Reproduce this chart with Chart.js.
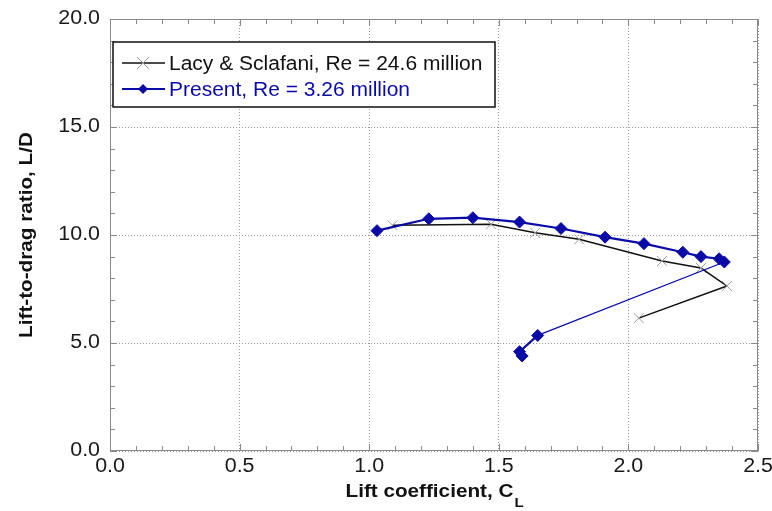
<!DOCTYPE html>
<html>
<head>
<meta charset="utf-8">
<script src="https://cdn.jsdelivr.net/npm/chart.js@4/dist/chart.umd.min.js"></script>
<style>
  html, body { margin: 0; padding: 0; background: #fff; }
  #wrap { width: 772px; height: 511px; }
</style>
</head>
<body>
<div id="wrap"><canvas id="chartLiftDrag"></canvas></div>
<script>
const lacyLabel = `Lacy & Sclafani, Re = 24.6 million`;
const lacyCL = [1.09, 1.47, 1.64, 1.81, 2.13, 2.28, 2.38, 2.04];
const lacyLD = [10.45, 10.5, 10.1, 9.8, 8.8, 8.47, 7.64, 6.15];

const presentLabel = `Present, Re = 3.26 million`;
const presentCL = [1.03, 1.23, 1.40, 1.58, 1.74, 1.91, 2.06, 2.21, 2.28, 2.35, 2.37, 1.65, 1.58, 1.59];
const presentLD = [10.2, 10.75, 10.8, 10.6, 10.3, 9.9, 9.6, 9.2, 9.0, 8.9, 8.75, 5.35, 4.6, 4.4];

const xTicks = [0, 0.5, 1.0, 1.5, 2.0, 2.5];
const yTicks = [0, 5, 10, 15, 20];
const xTitle = `Lift coefficient, C`;
const xTitleSub = `L`;
const yTitle = `Lift-to-drag ratio, L/D`;

const blue = `#0a0aa6`;
const fontFamily = `"Liberation Sans", Arial, Helvetica, sans-serif`;

function toPoints(xs, ys) {
  return xs.map((x, i) => ({ x, y: ys[i] }));
}

// the original lettering is a bit wider than Arial, so stretch it
function wideText(ctx, text, x, y, sx, align) {
  ctx.save();
  ctx.translate(x, y);
  ctx.scale(sx, 1);
  ctx.textAlign = align;
  ctx.fillText(text, 0, 0);
  ctx.restore();
}

// box, inward ticks, tick labels, legend and axis titles
const frame = {
  id: `frame`,
  afterDatasetsDraw(chart) {
    const { ctx, chartArea: a, scales } = chart;
    const xs = scales.x, ys = scales.y;
    ctx.save();
    ctx.strokeStyle = `#8a8a8a`;
    ctx.lineWidth = 1;
    ctx.strokeRect(a.left + 0.5, a.top + 0.5, a.right - a.left - 1, a.bottom - a.top - 1);
    ctx.beginPath();
    for (let i = 0; i <= 25; i++) {
      const px = Math.round(xs.getPixelForValue(i / 10)) + 0.5;
      const len = i % 5 === 0 ? 7 : 5;
      ctx.moveTo(px, a.bottom); ctx.lineTo(px, a.bottom - len);
      ctx.moveTo(px, a.top); ctx.lineTo(px, a.top + len);
    }
    for (let j = 0; j <= 20; j++) {
      const py = Math.round(ys.getPixelForValue(j)) + 0.5;
      const len = j % 5 === 0 ? 7 : 5;
      ctx.moveTo(a.left, py); ctx.lineTo(a.left + len, py);
      ctx.moveTo(a.right, py); ctx.lineTo(a.right - len, py);
    }
    ctx.stroke();

    // tick labels
    ctx.fillStyle = `#1a1a1a`;
    ctx.font = `20px ${fontFamily}`;
    ctx.textBaseline = `middle`;
    xTicks.forEach((v) => wideText(ctx, v.toFixed(1), xs.getPixelForValue(v), a.bottom + 15, 1.07, `center`));
    yTicks.forEach((v) => wideText(ctx, v.toFixed(1), a.left - 10, ys.getPixelForValue(v) - 1, 1.07, `right`));

    // legend
    const lx = 113, ly = 42, lw = 382, lh = 65;
    ctx.fillStyle = `#fff`;
    ctx.fillRect(lx, ly, lw, lh);
    ctx.strokeStyle = `#111`;
    ctx.lineWidth = 1.5;
    ctx.strokeRect(lx, ly, lw, lh);
    ctx.font = `20px ${fontFamily}`;
    ctx.textBaseline = `middle`;
    chart.data.datasets.forEach((ds, k) => {
      const cy = ly + 21 + k * 26;
      ctx.strokeStyle = ds.borderColor;
      ctx.lineWidth = k === 0 ? 1.5 : 2;
      ctx.beginPath(); ctx.moveTo(122, cy); ctx.lineTo(165, cy); ctx.stroke();
      if (k === 0) {
        ctx.strokeStyle = `#999`; ctx.lineWidth = 1;
        ctx.beginPath();
        ctx.moveTo(137, cy - 6); ctx.lineTo(149, cy + 6);
        ctx.moveTo(137, cy + 6); ctx.lineTo(149, cy - 6);
        ctx.stroke();
      } else {
        ctx.fillStyle = blue;
        ctx.beginPath();
        ctx.moveTo(143, cy - 5); ctx.lineTo(148, cy); ctx.lineTo(143, cy + 5); ctx.lineTo(138, cy);
        ctx.closePath(); ctx.fill();
      }
      ctx.fillStyle = k === 0 ? `#111` : blue;
      wideText(ctx, ds.label, 169, cy + 1, 1.05, `left`);
    });

    // axis titles
    ctx.fillStyle = `#111`;
    ctx.textBaseline = `alphabetic`;
    const sx = 1.15;
    ctx.font = `bold 18px ${fontFamily}`;
    const w1 = ctx.measureText(xTitle).width * sx;
    ctx.font = `bold 13px ${fontFamily}`;
    const w2 = ctx.measureText(xTitleSub).width * sx;
    const tx = (a.left + a.right) / 2 - (w1 + w2) / 2;
    ctx.font = `bold 18px ${fontFamily}`;
    wideText(ctx, xTitle, tx, 497, sx, `left`);
    ctx.font = `bold 13px ${fontFamily}`;
    wideText(ctx, xTitleSub, tx + w1 + 1, 507, sx, `left`);

    ctx.translate(32, (a.top + a.bottom) / 2);
    ctx.rotate(-Math.PI / 2);
    ctx.font = `bold 18px ${fontFamily}`;
    wideText(ctx, yTitle, 0, 0, sx, `center`);
    ctx.restore();
  }
};

const ctx = document.getElementById(`chartLiftDrag`).getContext(`2d`);
new Chart(ctx, {
  type: `scatter`,
  data: {
    datasets: [
      {
        label: lacyLabel,
        data: toPoints(lacyCL, lacyLD),
        showLine: true,
        borderColor: `#111`,
        borderWidth: 1.5,
        pointStyle: `crossRot`,
        pointRadius: 7,
        pointBorderColor: `#9a9a9a`,
        pointBorderWidth: 1,
        order: 2
      },
      {
        label: presentLabel,
        data: toPoints(presentCL, presentLD),
        showLine: true,
        borderColor: blue,
        borderWidth: 2.2,
        segment: {
          borderWidth: (c) => (c.p0DataIndex === 10 ? 1.3 : 2.2)
        },
        pointStyle: `rectRot`,
        pointRadius: 6,
        pointBackgroundColor: blue,
        pointBorderColor: blue,
        pointBorderWidth: 1,
        order: 1
      }
    ]
  },
  options: {
    responsive: true,
    maintainAspectRatio: false,
    animation: false,
    layout: { padding: { top: 19, right: 14, left: 0, bottom: 0 } },
    plugins: {
      legend: { display: false },
      tooltip: { enabled: false }
    },
    scales: {
      x: {
        type: `linear`,
        min: 0,
        max: 2.5,
        afterFit: (s) => { s.height = 60; },
        afterBuildTicks: (s) => { s.ticks = xTicks.map((v) => ({ value: v })); },
        grid: { color: `#9a9a9a`, drawTicks: false, lineWidth: 1 },
        border: { display: false, dash: [1, 2] },
        ticks: { display: false }
      },
      y: {
        type: `linear`,
        min: 0,
        max: 20,
        afterFit: (s) => { s.width = 110; },
        afterBuildTicks: (s) => { s.ticks = yTicks.map((v) => ({ value: v })); },
        grid: { color: `#9a9a9a`, drawTicks: false, lineWidth: 1 },
        border: { display: false, dash: [1, 2] },
        ticks: { display: false }
      }
    }
  },
  plugins: [frame]
});
</script>
</body>
</html>
